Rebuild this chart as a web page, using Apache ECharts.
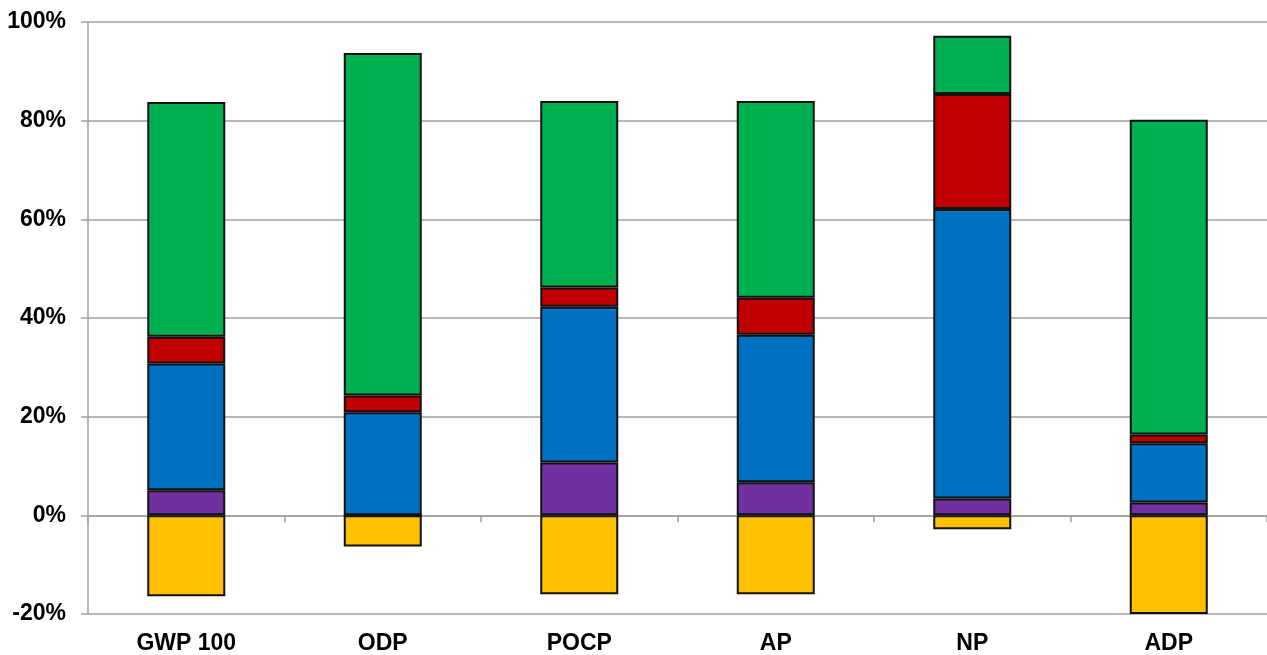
<!DOCTYPE html>
<html>
<head>
<meta charset="utf-8">
<script src="https://cdn.jsdelivr.net/npm/echarts@6/dist/echarts.min.js"></script>
<style>
html,body{margin:0;padding:0;background:#fff;}
#chart{width:1267px;height:655px;}
</style>
</head>
<body>
<div id="chart"></div>
<script>
const categories = ['GWP 100', 'ODP', 'POCP', 'AP', 'NP', 'ADP'];
const purple = [5.1, 0, 10.7, 6.7, 3.4, 2.6];
const blue   = [25.7, 20.9, 31.6, 29.9, 58.7, 12.0];
const red    = [5.4, 3.4, 3.9, 7.5, 23.3, 1.8];
const green  = [47.6, 69.4, 37.8, 39.9, 11.8, 63.8];
const yellow = [-16.4, -6.3, -16.0, -16.0, -2.8, -20.0];
const yTicks = [-20, 0, 20, 40, 60, 80, 100];

const chart = echarts.init(document.getElementById('chart'));
const font = 'Liberation Sans, Arial, sans-serif';
function s(name, data, color) {
  return {
    name: name, type: 'bar', stack: 'total', data: data,
    barWidth: 78,
    itemStyle: { color: color, borderColor: '#111', borderWidth: 2 },
    xAxisIndex: 0
  };
}
chart.setOption({
  animation: false,
  grid: { left: 88, right: 0, top: 22, bottom: 40, containLabel: false },
  xAxis: [
    {
      type: 'category', data: categories,
      axisLine: { onZero: true, lineStyle: { color: '#a0a0a0', width: 1.5 } },
      axisTick: { show: true, length: 7, inside: false, lineStyle: { color: '#a0a0a0', width: 1.5 } },
      axisLabel: { show: false }
    },
    {
      type: 'category', data: categories, position: 'bottom',
      axisLine: { show: false, onZero: false },
      axisTick: { show: false },
      axisLabel: { show: true, color: '#000', fontFamily: font, fontWeight: 'bold', fontSize: 23, margin: 18 }
    }
  ],
  yAxis: {
    type: 'value', min: yTicks[0], max: yTicks[yTicks.length - 1], interval: 20,
    axisLine: { show: true, lineStyle: { color: '#a0a0a0', width: 1.5 } },
    axisTick: { show: true, length: 7, lineStyle: { color: '#a0a0a0', width: 1.5 } },
    splitLine: { show: true, lineStyle: { color: '#a0a0a0', width: 1.5 } },
    axisLabel: { formatter: '{value}%', color: '#000', fontFamily: font, fontWeight: 'bold', fontSize: 23, margin: 22 }
  },
  series: [
    s('Purple', purple, '#7030A0'),
    s('Blue', blue, '#0070C0'),
    s('Red', red, '#C00000'),
    s('Green', green, '#00B050'),
    s('Yellow', yellow, '#FFC000')
  ]
});
</script>
</body>
</html>
